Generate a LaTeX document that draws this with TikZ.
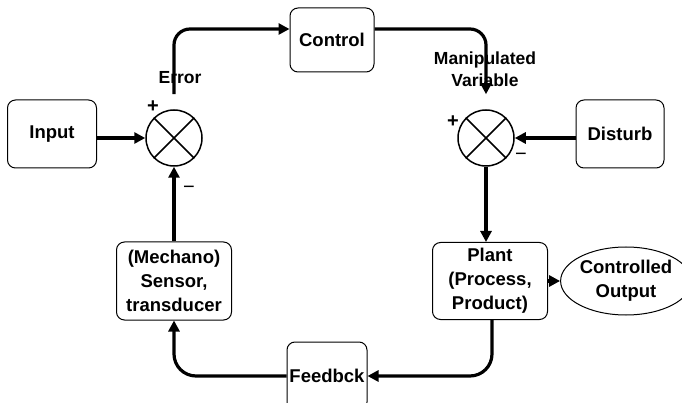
\documentclass[tikz,border=0pt]{standalone}
\usepackage{fontspec}
\setmainfont{Liberation Sans}
\usetikzlibrary{arrows.meta, shapes.geometric}

\begin{document}
\begin{tikzpicture}[x=1pt, y=-1pt,
    block/.style={draw, line width=1pt, rounded corners=8pt, inner sep=1pt, align=center, font=\fontsize{18.5}{24}\selectfont\bfseries},
    sumjunction/.style={draw, circle, line width=1.5pt, minimum size=56pt, inner sep=0pt},
    conn/.style={line width=3.2pt, -{Triangle[length=11pt, width=11pt]}},
    sign/.style={inner sep=0pt, font=\fontsize{20}{20}\selectfont},
    lbl/.style={inner sep=0pt, align=center, font=\fontsize{17.5}{22}\selectfont\bfseries}]
    \useasboundingbox (0,0) rectangle (682,403);

    % Draw the blocks
    \node[block, minimum width=89pt, minimum height=68pt] (input) at (52,134) {Input};
    \node[block, minimum width=84pt, minimum height=64pt] (control) at (332,40) {Control};
    \node[block, minimum width=88pt, minimum height=68pt] (disturb) at (620,134) {Disturb};
    \node[block, minimum width=115pt, minimum height=77pt] (plant) at (490,281) {Plant\\(Process,\\Product)};
    \node[block, minimum width=115pt, minimum height=78pt] (sensor) at (174,281) {(Mechano)\\Sensor,\\transducer};
    \node[block, minimum width=80pt, minimum height=68pt] (feedback) at (327,376) {Feedbck};
    \node[draw, ellipse, line width=1pt, inner sep=0pt, minimum width=110pt, minimum height=68pt, align=center, font=\fontsize{18.5}{24}\selectfont\bfseries] (output) at (626,281) {Controlled\\Output};

    % Draw the summing junctions with their crosses
    \node[sumjunction] (sum1) at (174,138) {};
    \node[sumjunction] (sum2) at (486,138) {};
    \foreach \s in {sum1, sum2} {
        \draw[line width=1.5pt] (\s.north west) -- (\s.south east);
        \draw[line width=1.5pt] (\s.north east) -- (\s.south west);
    }

    % Signs at the junctions
    \node[sign, font=\fontsize{20}{20}\selectfont\bfseries] (plus1) at (153,107) {+};
    \node[sign] (minus1) at (189,190) {−};
    \node[sign, font=\fontsize{20}{20}\selectfont\bfseries] (plus2) at (453,122) {+};
    \node[sign] (minus2) at (521,157) {−};

    % Signal labels
    \node[lbl] (error) at (180,78) {Error};
    \node[lbl] (manip) at (485,69) {Manipulated\\Variable};

    % Draw the connectors
    \draw[conn] (input.east |- sum1.west) -- (sum1.west);
    \draw[conn, rounded corners=16pt] ([yshift=15pt]sum1.north) |- ([yshift=11pt]control.west);
    \draw[conn, rounded corners=16pt] ([yshift=11pt]control.east) -| ([yshift=15pt]sum2.north);
    \draw[conn] (disturb.west |- sum2.east) -- (sum2.east);
    \draw[conn] (sum2.south) -- (sum2.south |- plant.north);
    \draw[conn] (plant.east) -- (output.west);
    \draw[conn, rounded corners=22pt] ([xshift=2pt]plant.south) |- (feedback.east);
    \draw[conn, rounded corners=22pt] (feedback.west) -| (sensor.south);
    \draw[conn] (sensor.north) -- (sum1.south);
\end{tikzpicture}
\end{document}
